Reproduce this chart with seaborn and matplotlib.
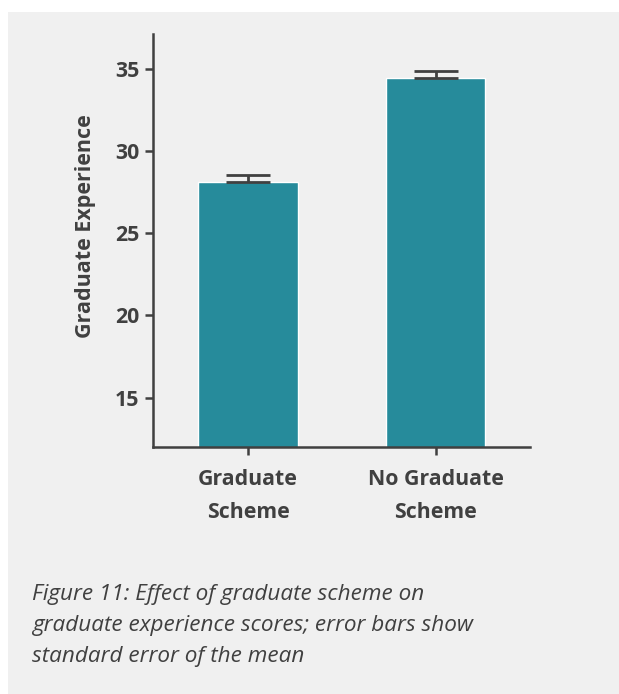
import matplotlib.pyplot as plt
import matplotlib.patches as mpatches
import pandas as pd
import seaborn as sns

# Data
groups = ['Graduate\nScheme', 'No Graduate\nScheme']
means = [28.1, 34.45]
sems = [0.42, 0.4]

df = pd.DataFrame({'group': groups, 'score': means})

sns.set_style('ticks')
plt.rcParams['font.family'] = ['Open Sans', 'DejaVu Sans']

dark = '#404040'
bg = '#f0f0f0'

fig = plt.figure(figsize=(6.19, 6.94), dpi=100)
fig.patch.set_facecolor('white')
# grey panel behind everything
fig.patches.append(mpatches.Rectangle((8 / 619, 0), 1, 1 - 12 / 694,
                                      transform=fig.transFigure,
                                      facecolor=bg, edgecolor='none', zorder=-10))

ax = fig.add_axes([153 / 619, 1 - 447 / 694, (530 - 153) / 619, (447 - 34) / 694])
ax.set_facecolor('none')

sns.barplot(data=df, x='group', y='score', color='#268b9b', saturation=1,
            width=0.53, errorbar=None, ax=ax)
ax.errorbar(range(len(means)), means, yerr=[[0] * len(sems), sems],
            fmt='none', ecolor=dark, elinewidth=2, capsize=16, capthick=2)

ax.set_ylim(12, 37.1)
ax.set_xlim(-0.507, 1.504)
ax.set_yticks([15, 20, 25, 30, 35])
ax.set_xlabel('')
ax.set_ylabel('Graduate Experience', fontsize=15.5, fontweight='bold', color=dark)
ax.yaxis.set_label_coords(-0.152, 0.535)

sns.despine(ax=ax)
for side in ['left', 'bottom']:
    ax.spines[side].set_linewidth(1.8)
    ax.spines[side].set_color(dark)
ax.tick_params(axis='both', length=6, width=1.8, color=dark, labelcolor=dark,
               labelsize=15.3, pad=4)
ax.tick_params(axis='x', pad=10)
for lab in ax.get_xticklabels() + ax.get_yticklabels():
    lab.set_fontweight('bold')
for lab in ax.get_xticklabels():
    lab.set_linespacing(1.72)

caption = ('Figure 11: Effect of graduate scheme on\n'
           'graduate experience scores; error bars show\n'
           'standard error of the mean')
fig.text(32 / 619, 1 - 584 / 694, caption, ha='left', va='top',
         fontsize=16.2, style='italic', color=dark, linespacing=1.63)

fig.savefig('out.png', dpi=100)
